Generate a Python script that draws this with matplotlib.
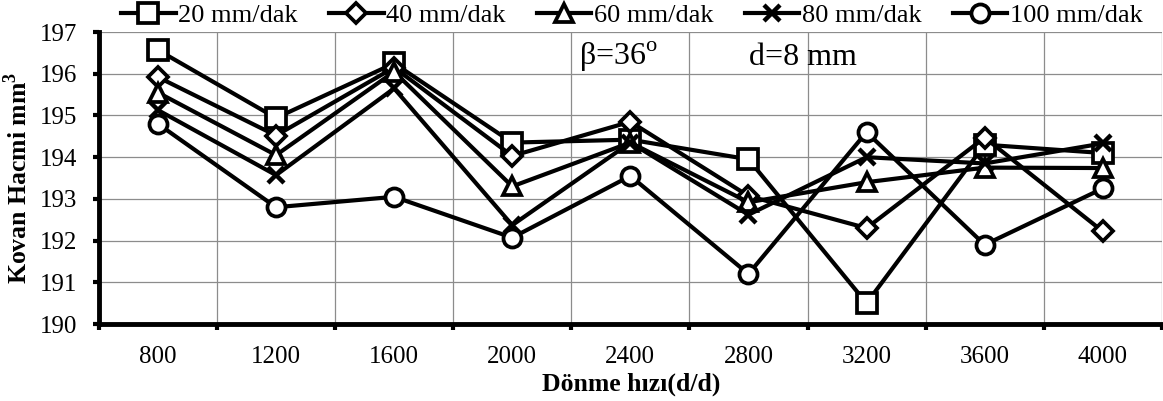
import numpy as np
import matplotlib.pyplot as plt

plt.rcParams['font.family'] = ['Liberation Serif', 'DejaVu Serif']
plt.rcParams['mathtext.fontset'] = 'custom'
plt.rcParams['mathtext.rm'] = 'Liberation Serif'
plt.rcParams['mathtext.bf'] = 'Liberation Serif:bold'

# Rotational speed categories and chip volume (mm^3) per feed rate
speeds = ['800', '1200', '1600', '2000', '2400', '2800', '3200', '3600', '4000']
feed_labels = ['20 mm/dak', '40 mm/dak', '60 mm/dak', '80 mm/dak', '100 mm/dak']
f20 = [196.57, 194.94, 196.25, 194.35, 194.42, 193.95, 190.50, 194.30, 194.10]
f40 = [195.92, 194.52, 196.15, 194.03, 194.85, 193.07, 192.30, 194.47, 192.22]
f60 = [195.55, 194.05, 196.05, 193.30, 194.35, 192.92, 193.40, 193.75, 193.74]
f80 = [195.13, 193.57, 195.65, 192.37, 194.35, 192.62, 194.00, 193.85, 194.33]
f100 = [194.80, 192.80, 193.05, 192.07, 193.55, 191.20, 194.60, 191.90, 193.25]
y_ticks = [190, 191, 192, 193, 194, 195, 196, 197]

series = [f20, f40, f60, f80, f100]
markers = ['s', 'D', '^', 'x', 'o']
sizes = [14, 10, 13, 12, 13]

fig = plt.figure(figsize=(11.63, 4.01), dpi=100)
ax = fig.add_axes([0.085, 0.192, 0.914, 0.728])

x = np.arange(len(speeds))
for vals, m, ms, lab in zip(series, markers, sizes, feed_labels):
    ax.plot(x, vals, color='black', linewidth=3.0, marker=m, markersize=ms,
            markerfacecolor='white', markeredgecolor='black',
            markeredgewidth=2.7 if m != 'x' else 3.2, label=lab)

ax.set_xlim(-0.5, len(speeds) - 0.5)
ax.set_ylim(190, 197)
ax.set_yticks(y_ticks)
ax.set_yticklabels([str(v) for v in y_ticks], fontsize=18)

# category boundaries carry the grid and ticks, labels sit in the middle
ax.set_xticks(np.arange(-0.5, len(speeds) + 0.5, 1.0))
ax.set_xticklabels([])
ax.set_xticks(x, minor=True)
ax.set_xticklabels(speeds, minor=True, fontsize=18)
ax.tick_params(axis='x', which='minor', length=0, pad=16)
ax.tick_params(axis='x', which='major', length=4, width=3, direction='out')
ax.tick_params(axis='y', which='major', length=4.5, width=3, direction='out', pad=11)

ax.grid(True, which='major', color='#8c8c8c', linewidth=0.9)
ax.set_axisbelow(True)
for s in ['top', 'right']:
    ax.spines[s].set_visible(False)
for s in ['left', 'bottom']:
    ax.spines[s].set_linewidth(3.5)

ax.set_xlabel('Dönme hızı(d/d)', fontsize=18.5, fontweight='bold', va='top')
ax.xaxis.set_label_coords(0.501, -0.165)
ax.set_ylabel('Kovan Hacmi mm$^\\mathbf{3}$', fontsize=18.5, fontweight='bold')
ax.yaxis.set_label_coords(-0.063, 0.5)

ax.text(0.452, 0.887, 'β=36$^{\\mathrm{o}}$', transform=ax.transAxes, fontsize=23)
ax.text(0.612, 0.887, 'd=8 mm', transform=ax.transAxes, fontsize=23)

fig.legend(loc='center', bbox_to_anchor=(0.5435, 0.962), ncol=5, frameon=False,
           fontsize=19, handlelength=2.05, columnspacing=1.2, handletextpad=0.1,
           borderaxespad=0, borderpad=0)

fig.savefig('out.png', dpi=100)
